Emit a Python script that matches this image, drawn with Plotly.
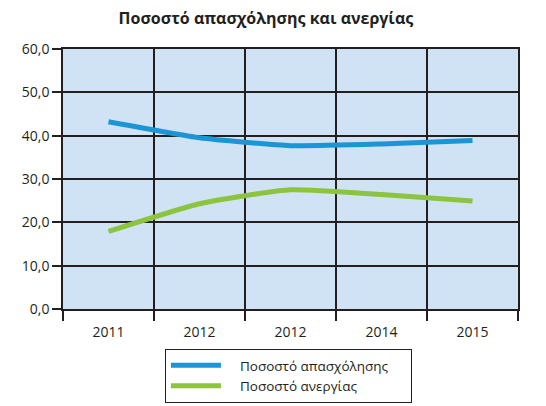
import plotly.graph_objects as go

years = ["2011", "2012", "2012", "2014", "2015"]
employment = [43.2, 39.5, 37.7, 38.1, 38.9]
unemployment = [17.9, 24.3, 27.5, 26.4, 24.9]
y_ticks = [0, 10, 20, 30, 40, 50, 60]

xpos = list(range(len(years)))
bounds = [i - 0.5 for i in range(len(years) + 1)]

sp = "\u00a0"
fig = go.Figure()
fig.add_trace(go.Scatter(x=xpos, y=employment, mode="lines",
                         name=sp * 4 + "Ποσοστό απασχόλησης" + sp * 5, legendgroup="a",
                         line=dict(color="#1b95d3", width=5, shape="spline", smoothing=0.5)))
fig.add_trace(go.Scatter(x=xpos, y=unemployment, mode="lines",
                         name=sp * 4 + "Ποσοστό ανεργίας", legendgroup="b",
                         line=dict(color="#8cc43f", width=5, shape="spline", smoothing=0.5)))

font = "Open Sans, Noto Sans, sans-serif"
fig.update_layout(
    width=546, height=406,
    margin=dict(l=63, r=28, t=49, b=97, autoexpand=False),
    paper_bgcolor="white", plot_bgcolor="#cfe3f4",
    separators=",.",
    font=dict(family=font, size=14, color="#231f20"),
    title=dict(text="<b>Ποσοστό απασχόλησης και ανεργίας</b>", x=0.487, xanchor="center",
               y=0.955, yanchor="middle", font=dict(size=16, color="#231f20")),
    showlegend=True,
    legend=dict(x=0.224, y=-0.154, xanchor="left", yanchor="top",
                bordercolor="#231f20", borderwidth=1, bgcolor="white",
                itemwidth=50, font=dict(size=13.5), tracegroupgap=0),
)
fig.update_xaxes(range=[-0.5, len(years) - 0.5], tickvals=xpos, ticktext=years,
                 showgrid=False, ticks="outside", ticklen=9, tickcolor="rgba(0,0,0,0)",
                 showline=True, linecolor="#231f20", linewidth=1.5,
                 mirror=True, zeroline=False,
                 minor=dict(tickvals=bounds, showgrid=True, gridcolor="#231f20", gridwidth=1.5,
                            ticks="outside", ticklen=10, tickcolor="#231f20", tickwidth=1.5))
fig.update_yaxes(range=[0, 60], tickvals=y_ticks, tickformat=".1f",
                 showgrid=True, gridcolor="#231f20", gridwidth=1.5,
                 ticks="outside", ticklen=9, tickcolor="#231f20", tickwidth=1.5,
                 showline=True, linecolor="#231f20", linewidth=1.5, mirror=True, zeroline=False)

fig.write_html("out.html", config={"displayModeBar": False},
               post_script="document.body.style.margin='0';")
